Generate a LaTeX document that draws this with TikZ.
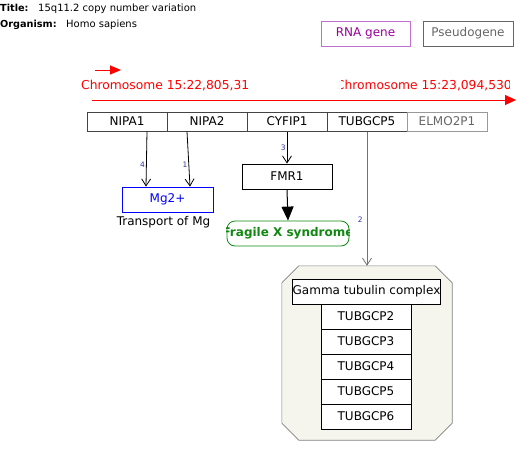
\documentclass[tikz,border=0pt]{standalone}
\usepackage{fontspec}
\setmainfont{DejaVu Sans}
\usetikzlibrary{arrows.meta}

\definecolor{boxgray}{HTML}{444444}
\definecolor{rnapurple}{HTML}{990099}
\definecolor{rnaedge}{HTML}{C070D0}
\definecolor{pseudogray}{HTML}{666666}
\definecolor{mgblue}{HTML}{0000FF}
\definecolor{fxgreen}{HTML}{118811}
\definecolor{numblue}{HTML}{3333AA}
\definecolor{groupfill}{HTML}{F5F5EE}

\begin{document}
\begin{tikzpicture}[x=1pt,y=-1pt,
    genebox/.style={draw=boxgray, line width=1pt, minimum width=80, minimum height=19,
        inner sep=0pt, font=\fontsize{12}{13}\selectfont},
    databox/.style={draw=black, line width=0.8pt, fill=white, minimum width=90,
        minimum height=25, inner sep=0pt, font=\fontsize{12}{13}\selectfont},
    numlab/.style={text=numblue, font=\fontsize{7.5}{8}\selectfont, inner sep=1pt},
    chrlabel/.style={text=red, font=\fontsize{12.3}{13}\selectfont, inner sep=0pt},
    arr/.style={-{Straight Barb[length=7pt,width=9pt]}, line width=0.8pt}]

    % Fix the page size
    \useasboundingbox (0,0) rectangle (529,455);

    % Title and organism
    \node[anchor=base west, inner sep=0pt, font=\fontsize{9.7}{10}\selectfont\bfseries] (titlekey) at (0,12) {Title:};
    \node[anchor=base west, inner sep=0pt, font=\fontsize{10}{10}\selectfont] (titleval) at (38,12) {15q11.2 copy number variation};
    \node[anchor=base west, inner sep=0pt, font=\fontsize{9.7}{10}\selectfont\bfseries] (orgkey) at (0,27) {Organism:};
    \node[anchor=base west, inner sep=0pt, font=\fontsize{10}{10}\selectfont] (orgval) at (66,27) {Homo sapiens};

    % Legend boxes
    \node[databox, draw=rnaedge, text=rnapurple, minimum width=89, line width=1pt] (rnagene) at (365.5,33.5) {RNA gene};
    \node[databox, draw=pseudogray, text=pseudogray, line width=1pt] (pseudogene) at (468,33.5) {Pseudogene};

    % Chromosome axis
    \coordinate (dirstart) at (95,70);
    \coordinate (dirend) at (121,70);
    \draw[red, line width=1pt, -{Triangle[length=11pt,width=9pt]}] (dirstart) -- (dirend);
    \coordinate (chrstart) at (92,100);
    \coordinate (chrend) at (516,100);
    \draw[red, line width=1pt, -{Triangle[length=11pt,width=10pt]}] (chrstart) -- (chrend);
    \begin{scope}
        \clip (70,70) rectangle (249,95);
        \node[chrlabel, anchor=base west] (chrleft) at (81,89) {Chromosome 15:22,805,313};
    \end{scope}
    \begin{scope}
        \clip (341,70) rectangle (509,95);
        \node[chrlabel, anchor=base east] (chrright) at (512,89) {Chromosome 15:23,094,530};
    \end{scope}

    % Genes along the chromosome
    \foreach \name [count=\i] in {NIPA1, NIPA2, CYFIP1, TUBGCP5} {
        \node[genebox] (\name) at (47+80*\i,121.5) {\name};
    }
    \node[genebox, draw=gray!80, text=pseudogray] (ELMO2P1) at (447,121.5) {ELMO2P1};

    % Magnesium transport
    \node[databox, draw=mgblue, text=mgblue, minimum width=91] (mg) at (167.5,199.5) {Mg2+};
    \node[inner sep=0pt, font=\fontsize{12}{13}\selectfont] (mgtext) at (163.5,222) {Transport of Mg};
    \draw[arr] ([xshift=20]NIPA1.south) -- node[numlab, pos=0.6, left] {4} ([xshift=-21.5]mg.north);
    \draw[arr] ([xshift=-20]NIPA2.south) -- node[numlab, pos=0.6, left] {1} ([xshift=22.5]mg.north);

    % FMR1 and fragile X
    \node[databox] (FMR1) at (287,176.5) {FMR1};
    \draw[arr] (CYFIP1.south) -- node[numlab, pos=0.5, left] {3} (FMR1.north);
    \node[draw=fxgreen, line width=0.8pt, rounded corners=8pt, minimum width=122,
        minimum height=25, inner sep=0pt] (fragile) at (288,233.5) {};
    \begin{scope}
        \clip (fragile.south west) rectangle (fragile.north east);
        \node[text=fxgreen, font=\fontsize{12}{13}\selectfont\bfseries] (fragiletext) at (fragile) {Fragile X syndrome};
    \end{scope}
    \draw[line width=1pt, -{Triangle[length=14pt,width=12pt]}] (FMR1.south) -- (fragile.north);

    % Gamma tubulin complex
    \def\cut{17}
    \node[minimum width=170, minimum height=174, inner sep=0pt] (complex) at (367,353) {};
    \draw[gray, fill=groupfill, line width=0.6pt]
        ([xshift=\cut]complex.north west) -- ([xshift=-\cut]complex.north east)
        -- ([yshift=-\cut]complex.north east) -- ([yshift=\cut]complex.south east)
        -- ([xshift=-\cut]complex.south east) -- ([xshift=\cut]complex.south west)
        -- ([yshift=\cut]complex.south west) -- ([yshift=-\cut]complex.north west) -- cycle;
    \draw[arr, draw=gray!90!black] (TUBGCP5.south) -- node[numlab, pos=0.66, left=3pt] {2} (complex.north);
    \node[databox, minimum width=147] (gamma) at (366.5,291.5) {Gamma tubulin complex};
    \foreach \k [count=\j] in {2,...,6} {
        \node[databox] (tub\k) at (366,291.5+25*\j) {TUBGCP\k};
    }
\end{tikzpicture}
\end{document}
